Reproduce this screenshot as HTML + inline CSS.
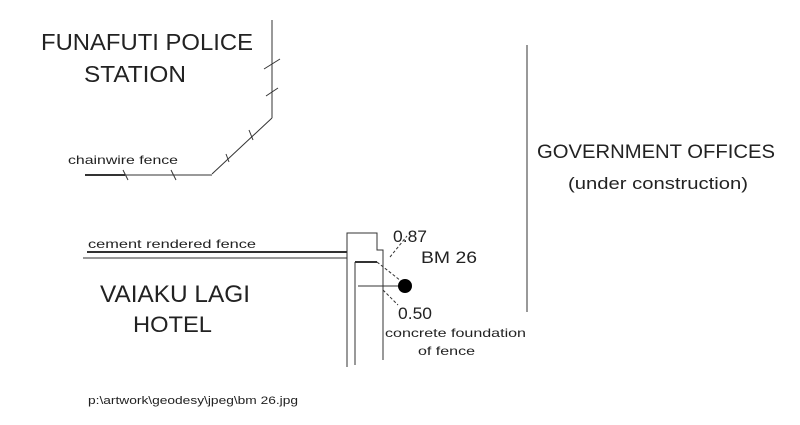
<!DOCTYPE html>
<html><head><meta charset="utf-8"><style>
html,body{margin:0;padding:0;background:#fff;}
svg{display:block;font-family:"Liberation Sans",Arial,sans-serif;}
</style></head><body>
<svg width="800" height="425" viewBox="0 0 800 425" xmlns="http://www.w3.org/2000/svg">
<rect width="800" height="425" fill="#fff"/>
<g fill="#222">
<text x="41" y="50" font-size="23" textLength="212" lengthAdjust="spacingAndGlyphs">FUNAFUTI POLICE</text>
<text x="84" y="82" font-size="23" textLength="102" lengthAdjust="spacingAndGlyphs">STATION</text>
<text x="68" y="164" font-size="12" textLength="110" lengthAdjust="spacingAndGlyphs">chainwire fence</text>
<text x="537" y="158" font-size="19" textLength="238" lengthAdjust="spacingAndGlyphs">GOVERNMENT OFFICES</text>
<text x="568" y="189" font-size="17" textLength="180" lengthAdjust="spacingAndGlyphs">(under construction)</text>
<text x="88" y="248" font-size="12" textLength="168" lengthAdjust="spacingAndGlyphs">cement rendered fence</text>
<text x="100" y="302" font-size="24" textLength="150" lengthAdjust="spacingAndGlyphs">VAIAKU LAGI</text>
<text x="133" y="332" font-size="22" textLength="79" lengthAdjust="spacingAndGlyphs">HOTEL</text>
<text x="393" y="242" font-size="17" textLength="34" lengthAdjust="spacingAndGlyphs">0.87</text>
<text x="421" y="263" font-size="17" textLength="56" lengthAdjust="spacingAndGlyphs">BM 26</text>
<text x="398" y="319" font-size="17" textLength="34" lengthAdjust="spacingAndGlyphs">0.50</text>
<text x="385" y="337" font-size="12" textLength="141" lengthAdjust="spacingAndGlyphs">concrete foundation</text>
<text x="418" y="355" font-size="12" textLength="57" lengthAdjust="spacingAndGlyphs">of fence</text>
<text x="88" y="404" font-size="11" textLength="210" lengthAdjust="spacingAndGlyphs">p:\artwork\geodesy\jpeg\bm 26.jpg</text>
</g>
<g stroke="#333" fill="none" stroke-width="1">
<line x1="272" y1="20" x2="272" y2="118"/>
<line x1="272" y1="118" x2="212" y2="174"/>
<line x1="212" y1="175" x2="125" y2="175"/>
<line x1="85" y1="175" x2="125" y2="175" stroke-width="2"/>
<line x1="264" y1="69" x2="280" y2="59"/>
<line x1="266" y1="96" x2="278" y2="88"/>
<line x1="249" y1="130" x2="253" y2="140"/>
<line x1="226" y1="154" x2="229" y2="162"/>
<line x1="123" y1="170" x2="128" y2="180"/>
<line x1="171" y1="170" x2="176" y2="180"/>
<line x1="527" y1="45" x2="527" y2="312"/>
<line x1="87" y1="252" x2="347" y2="252" stroke-width="2"/>
<line x1="83" y1="258" x2="347" y2="258"/>
<polyline points="347,367 347,233 377,233 377,250 383,250 383,360"/>
<line x1="355" y1="262" x2="355" y2="365"/>
<line x1="355" y1="262" x2="377" y2="262" stroke-width="2"/>
<line x1="358" y1="286" x2="402" y2="286"/>
<line x1="377" y1="262" x2="401" y2="281" stroke-dasharray="3,2"/>
<line x1="390" y1="257" x2="407" y2="236" stroke-dasharray="3,2"/>
<line x1="383" y1="290" x2="398" y2="305" stroke-dasharray="3,2"/>
</g>
<circle cx="405" cy="286" r="7" fill="#000"/>
</svg>
</body></html>
